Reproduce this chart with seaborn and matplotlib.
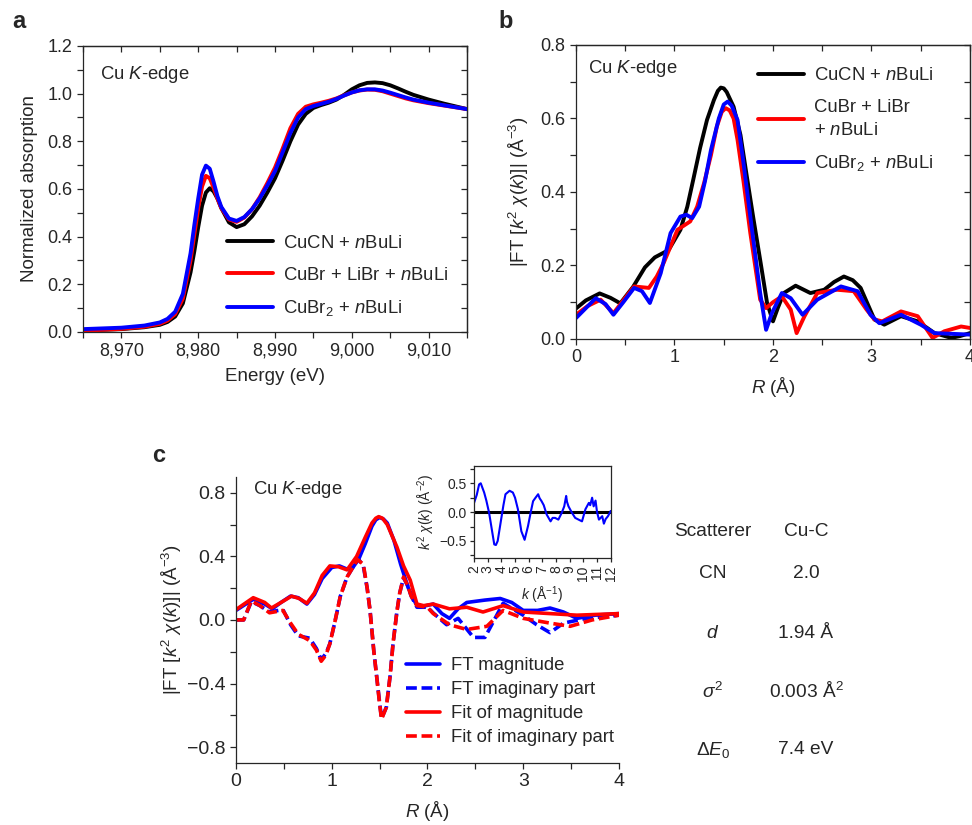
import matplotlib
matplotlib.use("Agg")
import matplotlib.pyplot as plt
from matplotlib.ticker import MultipleLocator
import seaborn as sns

# ---- panel a: XANES ----
energia = [8965, 8970, 8973, 8975, 8976, 8977, 8978, 8979, 8979.5, 8980, 8980.5,
           8981, 8981.5, 8982, 8982.5, 8983, 8984, 8985, 8986, 8987, 8988, 8989,
           8990, 8991, 8992, 8993, 8994, 8995, 8996, 8997, 8998, 8999, 9000, 9001,
           9002, 9003, 9004, 9005, 9006, 9007, 9008, 9010, 9012, 9015]
xanes_cucn = [0.006, 0.012, 0.02, 0.03, 0.042, 0.065, 0.12, 0.25, 0.34, 0.44, 0.53,
              0.585, 0.603, 0.59, 0.56, 0.52, 0.46, 0.44, 0.452, 0.485, 0.53, 0.585,
              0.645, 0.72, 0.8, 0.87, 0.915, 0.94, 0.952, 0.962, 0.975, 0.995, 1.018,
              1.035, 1.045, 1.047, 1.044, 1.035, 1.022, 1.008, 0.995, 0.975, 0.958, 0.935]
xanes_cubr = [0.005, 0.013, 0.022, 0.034, 0.048, 0.075, 0.14, 0.3, 0.41, 0.52, 0.61,
              0.655, 0.645, 0.605, 0.56, 0.52, 0.472, 0.462, 0.48, 0.515, 0.565, 0.625,
              0.69, 0.77, 0.855, 0.915, 0.945, 0.955, 0.962, 0.97, 0.98, 0.993, 1.005,
              1.013, 1.017, 1.016, 1.01, 1.0, 0.99, 0.98, 0.972, 0.96, 0.95, 0.935]
xanes_cubr2 = [0.012, 0.018, 0.027, 0.04, 0.055, 0.085, 0.16, 0.33, 0.45, 0.56, 0.66,
               0.698, 0.685, 0.63, 0.57, 0.525, 0.476, 0.466, 0.482, 0.515, 0.56, 0.615,
               0.675, 0.755, 0.835, 0.9, 0.935, 0.948, 0.957, 0.966, 0.978, 0.992, 1.005,
               1.014, 1.018, 1.018, 1.013, 1.004, 0.994, 0.984, 0.975, 0.962, 0.951, 0.935]
ticks_energia = [8970, 8980, 8990, 9000, 9010]
etiquetas_energia = ["8,970", "8,980", "8,990", "9,000", "9,010"]

# ---- panel b: FT EXAFS ----
r_cucn = [0, 0.1, 0.24, 0.35, 0.45, 0.58, 0.7, 0.8, 0.94, 1.06, 1.13, 1.19, 1.26, 1.33,
          1.4, 1.44, 1.47, 1.5, 1.53, 1.6, 1.67, 1.73, 1.8, 1.87, 1.94, 2.0, 2.05, 2.11,
          2.23, 2.38, 2.52, 2.62, 2.72, 2.81, 2.89, 3.03, 3.13, 3.3, 3.47, 3.64, 3.81,
          3.9, 4.0]
ft_cucn = [0.083, 0.105, 0.124, 0.112, 0.097, 0.142, 0.195, 0.222, 0.242, 0.297, 0.36,
           0.433, 0.52, 0.596, 0.65, 0.675, 0.684, 0.682, 0.672, 0.632, 0.555, 0.45,
           0.33, 0.215, 0.098, 0.048, 0.085, 0.125, 0.145, 0.125, 0.134, 0.155, 0.17,
           0.16, 0.139, 0.053, 0.039, 0.062, 0.048, 0.016, 0.003, 0.008, 0.016]
r_cubr = [0, 0.12, 0.25, 0.38, 0.48, 0.59, 0.74, 0.82, 0.89, 1.03, 1.16, 1.23, 1.3, 1.37,
          1.43, 1.48, 1.52, 1.56, 1.6, 1.64, 1.7, 1.77, 1.87, 1.93, 2.0, 2.09, 2.18, 2.24,
          2.32, 2.45, 2.65, 2.82, 2.95, 3.03, 3.11, 3.3, 3.47, 3.62, 3.74, 3.91, 4.0]
ft_cubr = [0.066, 0.09, 0.107, 0.07, 0.105, 0.143, 0.139, 0.17, 0.207, 0.297, 0.32, 0.36,
           0.424, 0.5, 0.578, 0.618, 0.628, 0.622, 0.6, 0.542, 0.43, 0.288, 0.107, 0.084,
           0.1, 0.116, 0.08, 0.016, 0.062, 0.125, 0.134, 0.13, 0.08, 0.053, 0.048, 0.075,
           0.062, 0.003, 0.021, 0.034, 0.03]
r_cubr2 = [0, 0.2, 0.3, 0.38, 0.48, 0.59, 0.67, 0.75, 0.86, 0.96, 1.06, 1.12, 1.18, 1.25,
           1.31, 1.37, 1.45, 1.5, 1.54, 1.58, 1.64, 1.7, 1.77, 1.87, 1.93, 1.99, 2.09,
           2.18, 2.3, 2.45, 2.69, 2.86, 2.99, 3.08, 3.3, 3.5, 3.64, 4.0]
ft_cubr2 = [0.057, 0.111, 0.095, 0.066, 0.1, 0.139, 0.13, 0.098, 0.179, 0.288, 0.333,
            0.338, 0.329, 0.36, 0.43, 0.514, 0.6, 0.638, 0.646, 0.635, 0.596, 0.48, 0.333,
            0.125, 0.025, 0.071, 0.125, 0.111, 0.066, 0.107, 0.143, 0.13, 0.066, 0.043,
            0.066, 0.039, 0.016, 0.012]

# ---- panel c: ajuste ----
r_mag = [0, 0.18, 0.3, 0.38, 0.47, 0.57, 0.65, 0.74, 0.82, 0.9, 1.0, 1.08, 1.16, 1.22,
         1.28, 1.35, 1.42, 1.46, 1.5, 1.54, 1.58, 1.65, 1.72, 1.8, 1.88, 1.95, 2.06, 2.15,
         2.23, 2.32, 2.41, 2.6, 2.76, 2.88, 3.0, 3.15, 3.28, 3.42, 3.56, 3.75, 4.0]
ft_mag = [0.06, 0.13, 0.1, 0.07, 0.11, 0.15, 0.14, 0.1, 0.16, 0.26, 0.33, 0.34, 0.32,
          0.33, 0.38, 0.48, 0.59, 0.63, 0.645, 0.635, 0.61, 0.5, 0.35, 0.2, 0.1, 0.085,
          0.1, 0.04, 0.01, 0.07, 0.11, 0.125, 0.135, 0.11, 0.06, 0.06, 0.075, 0.05, 0.01,
          0.03, 0.04]
r_fitmag = [0, 0.18, 0.3, 0.37, 0.47, 0.58, 0.66, 0.74, 0.82, 0.9, 0.98, 1.07, 1.16,
            1.26, 1.35, 1.42, 1.46, 1.49, 1.53, 1.58, 1.68, 1.75, 1.82, 1.89, 1.96, 2.06,
            2.23, 2.41, 2.58, 2.79, 3.0, 3.28, 3.56, 4.0]
fit_mag = [0.065, 0.14, 0.11, 0.075, 0.11, 0.15, 0.135, 0.105, 0.17, 0.28, 0.34, 0.335,
           0.315, 0.4, 0.52, 0.61, 0.64, 0.65, 0.64, 0.6, 0.46, 0.34, 0.25, 0.1, 0.09, 0.1,
           0.07, 0.08, 0.05, 0.09, 0.05, 0.04, 0.03, 0.04]
r_im = [0, 0.08, 0.16, 0.25, 0.35, 0.49, 0.57, 0.65, 0.77, 0.84, 0.89, 0.94, 0.98, 1.03,
        1.09, 1.16, 1.22, 1.27, 1.33, 1.37, 1.4, 1.44, 1.47, 1.5, 1.52, 1.57, 1.61, 1.64,
        1.68, 1.71, 1.75, 1.79, 1.83, 1.89, 2.0, 2.06, 2.2, 2.32, 2.48, 2.6, 2.79, 3.0,
        3.14, 3.28, 3.42, 3.66, 4.0]
ft_im = [0.0, 0.0, 0.115, 0.09, 0.05, 0.065, -0.03, -0.1, -0.115, -0.18, -0.25, -0.21,
         -0.15, -0.02, 0.15, 0.27, 0.33, 0.39, 0.34, 0.2, 0.06, -0.2, -0.36, -0.52, -0.62,
         -0.55, -0.35, -0.15, 0.05, 0.17, 0.265, 0.22, 0.15, 0.08, 0.08, 0.044, -0.03,
         0.01, -0.11, -0.11, 0.105, 0.03, -0.03, -0.08, -0.02, 0.01, 0.03]
r_fitim = [0, 0.08, 0.16, 0.25, 0.35, 0.49, 0.57, 0.65, 0.77, 0.84, 0.89, 0.94, 0.98,
           1.03, 1.09, 1.16, 1.22, 1.27, 1.33, 1.37, 1.4, 1.44, 1.47, 1.5, 1.52, 1.57,
           1.61, 1.64, 1.68, 1.71, 1.75, 1.79, 1.83, 1.89, 2.0, 2.06, 2.23, 2.41, 2.62,
           2.79, 3.0, 3.28, 3.49, 3.72, 4.0]
fit_im = [0.0, 0.0, 0.12, 0.09, 0.045, 0.06, -0.02, -0.09, -0.13, -0.19, -0.26, -0.22,
          -0.15, -0.02, 0.15, 0.27, 0.33, 0.38, 0.35, 0.2, 0.06, -0.2, -0.36, -0.53,
          -0.625, -0.55, -0.35, -0.15, 0.05, 0.17, 0.27, 0.22, 0.15, 0.09, 0.08, 0.04,
          -0.03, -0.06, -0.04, 0.06, 0.01, -0.02, -0.04, 0.0, 0.03]

# inset chi(k)
k_val = [2.0, 2.2, 2.37, 2.49, 2.74, 2.9, 3.1, 3.3, 3.48, 3.6, 3.73, 3.98, 4.15, 4.3,
         4.6, 4.84, 5.0, 5.21, 5.46, 5.7, 5.95, 6.15, 6.32, 6.5, 6.69, 6.8, 6.94, 7.1,
         7.31, 7.6, 7.75, 7.93, 8.17, 8.42, 8.6, 8.74, 8.8, 8.91, 9.16, 9.4, 9.65, 9.9,
         10.15, 10.4, 10.5, 10.64, 10.75, 10.89, 11.0, 11.14, 11.38, 11.5, 11.63, 11.8, 12.0]
chi_val = [0.16, 0.3, 0.48, 0.5, 0.34, 0.2, -0.01, -0.3, -0.56, -0.57, -0.5, -0.13, 0.12,
           0.31, 0.37, 0.34, 0.25, 0.05, -0.33, -0.48, -0.24, 0.0, 0.19, 0.25, 0.31, 0.24,
           0.19, 0.12, -0.04, -0.16, -0.1, -0.1, -0.13, -0.01, 0.1, 0.28, 0.18, 0.1,
           -0.01, -0.1, -0.13, -0.16, 0.05, 0.16, 0.12, 0.25, 0.1, 0.2, 0.0, -0.13, -0.07,
           -0.2, -0.12, -0.07, 0.02]

# tabla del ajuste
tabla_param = [r"Scatterer", "CN", r"$d$", r"$\sigma^{2}$", r"$\Delta E_{0}$"]
tabla_valor = ["Cu-C", "2.0", "1.94 Å", "0.003 Å$^{2}$", "7.4 eV"]

sns.set_style("ticks")
plt.rcParams["font.family"] = ["Liberation Sans", "DejaVu Sans"]
plt.rcParams["mathtext.fontset"] = "custom"
plt.rcParams["mathtext.rm"] = "Liberation Sans"
plt.rcParams["mathtext.it"] = "Liberation Sans:italic"
plt.rcParams["mathtext.bf"] = "Liberation Sans:bold"
plt.rcParams["axes.linewidth"] = 0.9
for k in ["xtick.major.width", "ytick.major.width", "xtick.minor.width", "ytick.minor.width"]:
    plt.rcParams[k] = 0.9

ylab_ft = r"|FT [$k^{2}\ \chi(k)$]| (Å$^{-3}$)"
fig = plt.figure(figsize=(9.72, 8.25), dpi=100)


def ticks_espejo(ax, xmaj, xmin, ymaj, ymin):
    ax.xaxis.set_major_locator(MultipleLocator(xmaj))
    ax.xaxis.set_minor_locator(MultipleLocator(xmin))
    ax.yaxis.set_major_locator(MultipleLocator(ymaj))
    ax.yaxis.set_minor_locator(MultipleLocator(ymin))
    ax.tick_params(which="both", direction="out", length=4, labelsize=13)
    arriba = ax.secondary_xaxis("top")
    arriba.xaxis.set_major_locator(MultipleLocator(xmaj))
    arriba.xaxis.set_minor_locator(MultipleLocator(xmin))
    arriba.tick_params(which="both", direction="in", length=4, labeltop=False)
    derecha = ax.secondary_yaxis("right")
    derecha.yaxis.set_major_locator(MultipleLocator(ymaj))
    derecha.yaxis.set_minor_locator(MultipleLocator(ymin))
    derecha.tick_params(which="both", direction="in", length=4, labelright=False)


# ---- a ----
ax_a = fig.add_axes([0.0854, 0.5976, 0.3951, 0.3467])
sns.lineplot(x=energia, y=xanes_cucn, color="black", lw=2.8, label=r"CuCN + $n$BuLi", ax=ax_a)
sns.lineplot(x=energia, y=xanes_cubr, color="#ff0000", lw=2.8, label=r"CuBr + LiBr + $n$BuLi", ax=ax_a)
sns.lineplot(x=energia, y=xanes_cubr2, color="#0000ff", lw=2.8, label=r"CuBr$_2$ + $n$BuLi", ax=ax_a)
ax_a.set_xlim(8965, 9015)
ax_a.set_ylim(0, 1.2)
ticks_espejo(ax_a, 10, 5, 0.2, 0.1)
ax_a.set_xticks(ticks_energia)
ax_a.set_xticklabels(etiquetas_energia)
ax_a.set_xlabel("Energy (eV)", fontsize=13.5, labelpad=6)
ax_a.set_ylabel("Normalized absorption", fontsize=13.5, labelpad=7)
ax_a.text(0.045, 0.9, r"Cu $K$-edge", transform=ax_a.transAxes, fontsize=13.3, va="center")
ax_a.legend(loc="upper left", bbox_to_anchor=(0.375, 0.34), frameon=False, fontsize=13.3,
            handlelength=2.5, handletextpad=0.55, labelspacing=0.8, borderpad=0, borderaxespad=0)

# ---- b ----
ax_b = fig.add_axes([0.5926, 0.5891, 0.4053, 0.3564])
sns.lineplot(x=r_cucn, y=ft_cucn, color="black", lw=2.8, label=r"CuCN + $n$BuLi", ax=ax_b)
sns.lineplot(x=r_cubr, y=ft_cubr, color="#ff0000", lw=2.8, label="CuBr + LiBr\n+ $n$BuLi", ax=ax_b)
sns.lineplot(x=r_cubr2, y=ft_cubr2, color="#0000ff", lw=2.8, label=r"CuBr$_2$ + $n$BuLi", ax=ax_b)
ax_b.set_xlim(0, 4)
ax_b.set_ylim(0, 0.8)
ticks_espejo(ax_b, 1, 0.5, 0.2, 0.1)
ax_b.set_xlabel(r"$R$ (Å)", fontsize=13.5, labelpad=6)
ax_b.set_ylabel(ylab_ft, fontsize=13.5, labelpad=7)
ax_b.text(0.03, 0.92, r"Cu $K$-edge", transform=ax_b.transAxes, fontsize=13.3, va="center")
leg_b = ax_b.legend(loc="upper left", bbox_to_anchor=(0.462, 0.925), frameon=False, fontsize=13.3,
                    handlelength=2.5, handletextpad=0.55, labelspacing=0.8, borderpad=0,
                    borderaxespad=0)
for t in leg_b.get_texts():
    t.set_linespacing(1.45)

# ---- c ----
ax_c = fig.add_axes([0.2428, 0.0752, 0.3940, 0.3467])
sns.lineplot(x=r_mag, y=ft_mag, color="#0000ff", lw=2.6, label="FT magnitude", ax=ax_c)
sns.lineplot(x=r_im, y=ft_im, color="#0000ff", lw=2.6, linestyle=(0, (3, 1.3)),
             label="FT imaginary part", ax=ax_c)
sns.lineplot(x=r_fitmag, y=fit_mag, color="#ff0000", lw=2.6, label="Fit of magnitude", ax=ax_c)
sns.lineplot(x=r_fitim, y=fit_im, color="#ff0000", lw=2.6, linestyle=(0, (3, 1.3)),
             label="Fit of imaginary part", ax=ax_c)
ax_c.set_xlim(0, 4)
ax_c.set_ylim(-0.9, 0.9)
ax_c.xaxis.set_major_locator(MultipleLocator(1))
ax_c.xaxis.set_minor_locator(MultipleLocator(0.5))
ax_c.yaxis.set_major_locator(MultipleLocator(0.4))
ax_c.yaxis.set_minor_locator(MultipleLocator(0.2))
ax_c.tick_params(which="both", direction="out", length=4, labelsize=14)
sns.despine(ax=ax_c)
ax_c.set_xlabel(r"$R$ (Å)", fontsize=13.5, labelpad=6)
ax_c.set_ylabel(ylab_ft, fontsize=13.5, labelpad=2)
ax_c.text(0.045, 0.955, r"Cu $K$-edge", transform=ax_c.transAxes, fontsize=13.3, va="center")
ax_c.legend(loc="upper left", bbox_to_anchor=(0.444, 0.37), frameon=False, fontsize=13.3,
            handlelength=1.85, handletextpad=0.6, labelspacing=0.38, borderpad=0, borderaxespad=0)

# inset
ax_in = fig.add_axes([0.4877, 0.3233, 0.1406, 0.1119])
ax_in.axhline(0, color="black", lw=2.2)
sns.lineplot(x=k_val, y=chi_val, color="#0000ff", lw=1.5, ax=ax_in)
ax_in.set_xlim(2, 12)
ax_in.set_ylim(-0.8, 0.8)
ax_in.xaxis.set_major_locator(MultipleLocator(1))
ax_in.yaxis.set_major_locator(MultipleLocator(0.5))
ax_in.yaxis.set_minor_locator(MultipleLocator(0.25))
ax_in.tick_params(which="both", direction="out", length=3, labelsize=10, pad=2)
ax_in.tick_params(axis="x", labelrotation=90)
ax_in.set_xlabel(r"$k$ (Å$^{-1}$)", fontsize=10, labelpad=3)
ax_in.set_ylabel(r"$k^{2}\ \chi(k)$ (Å$^{-2}$)", fontsize=10, labelpad=2)

# tabla
filas_y = [532, 573, 633, 692, 750]
for py, par, val in zip(filas_y, tabla_param, tabla_valor):
    fig.text(713 / 972, 1 - py / 825, par, ha="center", va="center", fontsize=13.8)
    fig.text(806 / 972, 1 - py / 825, val, ha="center", va="center", fontsize=13.8)

# letras de panel
fig.text(12 / 972, 1 - 22 / 825, "a", fontsize=17, fontweight="bold", va="center")
fig.text(498 / 972, 1 - 22 / 825, "b", fontsize=17, fontweight="bold", va="center")
fig.text(152 / 972, 1 - 455 / 825, "c", fontsize=17, fontweight="bold", va="center")

fig.savefig("out.png", dpi=100)
